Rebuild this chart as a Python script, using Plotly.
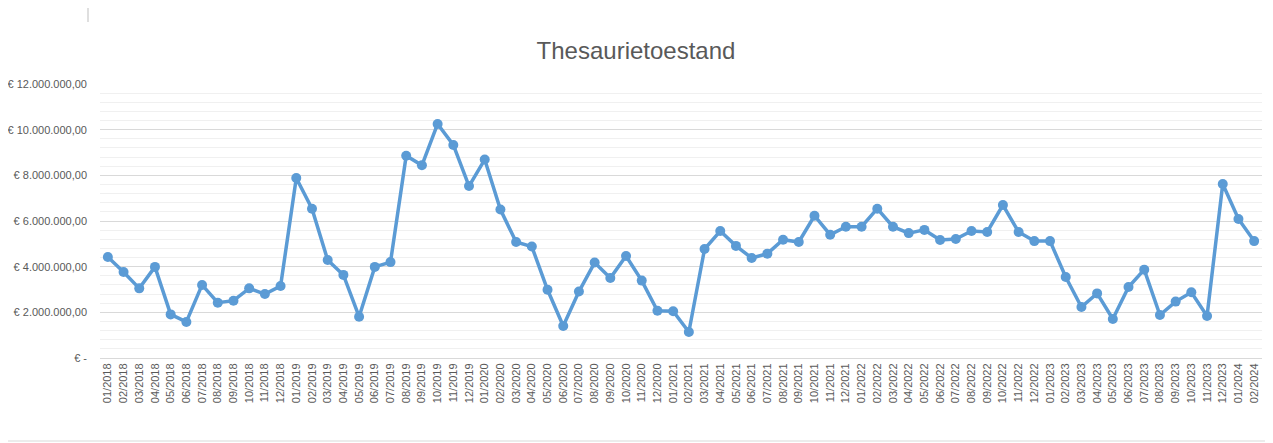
import plotly.graph_objects as go

months = [
    "01/2018", "02/2018", "03/2018", "04/2018", "05/2018", "06/2018", "07/2018", "08/2018", "09/2018", "10/2018", "11/2018", "12/2018",
    "01/2019", "02/2019", "03/2019", "04/2019", "05/2019", "06/2019", "07/2019", "08/2019", "09/2019", "10/2019", "11/2019", "12/2019",
    "01/2020", "02/2020", "03/2020", "04/2020", "05/2020", "06/2020", "07/2020", "08/2020", "09/2020", "10/2020", "11/2020", "12/2020",
    "01/2021", "02/2021", "03/2021", "04/2021", "05/2021", "06/2021", "07/2021", "08/2021", "09/2021", "10/2021", "11/2021", "12/2021",
    "01/2022", "02/2022", "03/2022", "04/2022", "05/2022", "06/2022", "07/2022", "08/2022", "09/2022", "10/2022", "11/2022", "12/2022",
    "01/2023", "02/2023", "03/2023", "04/2023", "05/2023", "06/2023", "07/2023", "08/2023", "09/2023", "10/2023", "11/2023", "12/2023",
    "01/2024", "02/2024",
]

balance = [
    4420000, 3770000, 3050000, 3990000, 1910000, 1580000, 3200000, 2420000, 2510000, 3050000, 2800000, 3150000,
    7880000, 6540000, 4290000, 3640000, 1810000, 3990000, 4200000, 8860000, 8440000, 10250000, 9330000, 7530000,
    8690000, 6500000, 5080000, 4880000, 2990000, 1400000, 2910000, 4180000, 3500000, 4470000, 3390000, 2070000,
    2050000, 1140000, 4770000, 5560000, 4910000, 4380000, 4570000, 5180000, 5080000, 6230000, 5400000, 5750000,
    5750000, 6540000, 5750000, 5470000, 5610000, 5170000, 5210000, 5560000, 5520000, 6700000, 5520000, 5120000,
    5120000, 3550000, 2230000, 2830000, 1710000, 3110000, 3870000, 1880000, 2470000, 2880000, 1840000, 7620000,
    6090000, 5120000,
]

y_tick_values = [0, 2000000, 4000000, 6000000, 8000000, 10000000, 12000000]
y_tick_labels = ["€ -", "€ 2.000.000,00", "€ 4.000.000,00", "€ 6.000.000,00",
                 "€ 8.000.000,00", "€ 10.000.000,00", "€ 12.000.000,00"]

title_text = "Thesaurietoestand"

TEXT = "#595959"
BLUE = "#5B9BD5"
FONT = "Liberation Sans"

# page body has an 8px margin; figure sized to fit the 1273x443 window
W, H = 1265, 435
ML, MR, MT, MB = 92, 11, 76, 85
PH = H - MT - MB  # plot height in px
PW = W - ML - MR  # plot width in px

fig = go.Figure()
fig.add_trace(go.Scatter(
    x=months, y=balance, mode="lines+markers",
    line=dict(color=BLUE, width=3.5),
    marker=dict(color=BLUE, size=10),
    hoverinfo="x+y", showlegend=False,
))

fig.update_layout(
    width=W, height=H,
    margin=dict(l=ML, r=MR, t=MT, b=MB, autoexpand=False),
    paper_bgcolor="white", plot_bgcolor="white",
    font=dict(family=FONT, color=TEXT, size=11),
    title=dict(text=title_text, x=(636 - 8) / W, xanchor="center", xref="container",
               y=1 - 43 / H, yref="container", yanchor="middle",
               font=dict(family=FONT, size=24, color=TEXT)),
    xaxis=dict(
        type="category", range=[-0.5, len(months) - 0.5],
        showgrid=False, showline=True, linecolor="#d9d9d9", linewidth=1,
        ticks="", tickangle=-90, tickfont=dict(size=11, color=TEXT),
        zeroline=False, automargin=False,
    ),
    yaxis=dict(
        range=[0, 12000000], tickmode="array",
        tickvals=y_tick_values, ticktext=y_tick_labels,
        showgrid=True, gridcolor="#d9d9d9", gridwidth=1,
        minor=dict(tickmode="linear", tick0=0, dtick=400000, showgrid=True,
                   gridcolor="#f0f0f0", gridwidth=1, ticks=""),
        showline=False, zeroline=False, ticks="",
        ticklabelstandoff=12, automargin=False,
        tickfont=dict(size=11, color=TEXT),
    ),
    shapes=[
        dict(type="line", xref="paper", yref="paper", x0=-0.09, x1=1.01,
             y0=-83 / PH, y1=-83 / PH,
             line=dict(color="#d9d9d9", width=1)),
        dict(type="line", xref="paper", yref="paper",
             x0=(88 - 8 - ML) / PW, x1=(88 - 8 - ML) / PW,
             y0=(358 - 7) / PH, y1=(358 - 22) / PH,
             line=dict(color="#bfbfbf", width=1)),
    ],
)

fig.write_html("out.html")
